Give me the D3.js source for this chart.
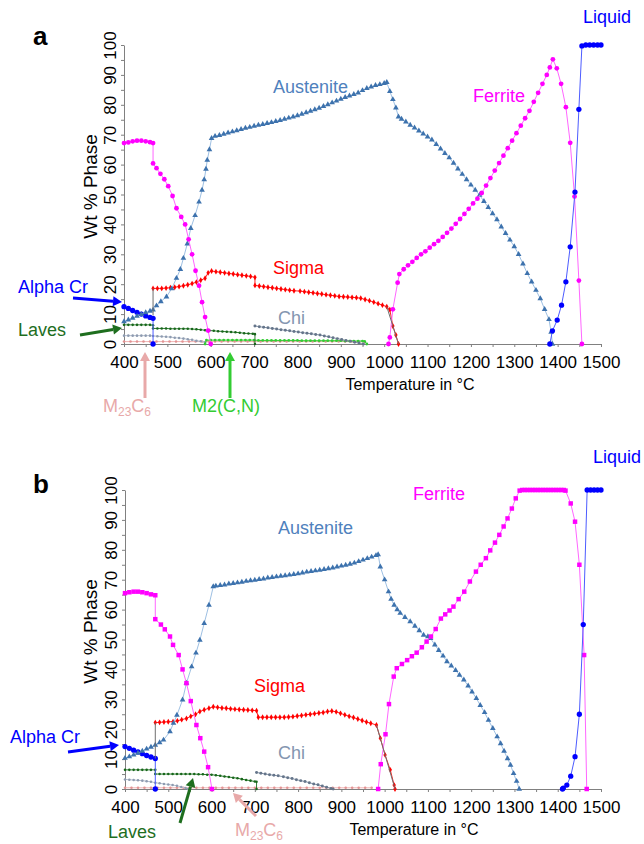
<!DOCTYPE html>
<html>
<head>
<meta charset="utf-8">
<script src="https://cdn.jsdelivr.net/npm/d3@7"></script>
<style>
  body { margin: 0; background: #fff; }
  text { font-family: Arial, "Liberation Sans", sans-serif; }
</style>
</head>
<body>
<div id="chart"></div>
<script>
// values: [temperature °C, wt % phase]
var xTickValues = d3.range(400, 1501, 50);
var yTickValues = d3.range(0, 101, 5);

// ---------- panel a ----------
var ferriteA1 = [[400,67.2],[410,67.4],[420,67.8],[430,68],[440,68],[450,67.8],[460,67.5],[467,67.2],[467,60.4],[475,58.8],
  [484,56.9],[493,55.1],[502,52.8],[512,49.5],[521,45.4],[532,42.5],[541,40],[549,35],[557,30],[565,24.5],[573,19.5],
  [580,14],[587,9],[594,4.5],[600,0]];
var ferriteA2 = [[1010,0],[1013,2.2],[1020,11.6],[1031,20.5],[1035,23.4],[1045,25],[1055,26.3],[1065,27.5],[1075,28.8],
  [1085,30],[1095,31],[1105,32.2],[1115,33.4],[1125,34.5],[1135,35.8],[1145,37.2],[1155,38.6],[1165,40.2],[1175,41.8],
  [1185,43.5],[1195,45.2],[1205,47],[1215,48.6],[1225,50.5],[1235,53],[1245,55.5],[1255,58],[1265,60.5],[1275,63],
  [1285,65.5],[1295,68],[1305,70.5],[1315,73],[1325,75.5],[1335,78],[1345,81],[1355,84],[1365,87],[1375,90],[1382,92.5],
  [1389,95.2],[1398,92.2],[1408,87],[1419,79.2],[1429,67.3],[1439,49.3],[1449,21.2],[1456,0]];
var austeniteA = [[400,7.5],[410,8.1],[420,8.7],[430,9.3],[440,9.9],[450,10.5],[460,11],[467,11.4],[475,12.8],[485,14.2],
  [498,15.8],[510,18.5],[521,22],[530,25],[537,28.7],[546,33.5],[554,38.7],[564,43],[573,47.5],[580,51.5],[585,55],
  [589,58.5],[592,61.5],[597,65],[602,68.8],[610,69.5],[620,69.8],[630,70.2],[640,70.6],[650,71],[660,71.4],[670,71.8],
  [680,72.2],[690,72.5],[700,72.9],[710,73.2],[720,73.5],[730,73.8],[740,74.1],[750,74.5],[760,74.8],[770,75.2],
  [780,75.6],[790,76],[800,76.4],[810,76.9],[820,77.4],[830,77.9],[840,78.4],[850,78.9],[860,79.5],[870,80.1],[880,80.7],
  [890,81.3],[900,81.9],[910,82.5],[920,83],[930,83.5],[940,84],[950,84.8],[960,85.5],[970,86],[980,86.5],[990,86.8],
  [1000,87.2],[1006,87.5],[1013,84.5],[1020,81.8],[1027,79],[1033,76],[1040,75.2],[1050,74.3],[1060,73.2],[1070,72.3],
  [1080,71.3],[1090,70.3],[1100,69.3],[1110,68.3],[1120,66.8],[1130,65.3],[1140,63.8],[1150,62.3],[1160,60.5],[1170,58.6],
  [1180,56.8],[1190,55],[1200,53.2],[1210,51.5],[1220,49.8],[1230,47.7],[1240,45.7],[1250,43.6],[1260,41.6],[1270,39.2],
  [1280,37],[1290,34.8],[1300,32.6],[1310,30],[1320,26.8],[1330,23.6],[1340,20.8],[1350,18],[1360,15.2],[1370,11.6],
  [1380,8.2],[1385,4],[1388,0]];
var sigmaA = [[467,18.6],[477,18.6],[487,18.6],[497,18.7],[507,18.8],[517,19],[527,19.2],[537,19.5],[547,19.8],[557,20.2],
  [567,20.7],[577,21.3],[587,22],[594,23.8],[602,24.4],[612,24.2],[622,24],[632,23.8],[642,23.6],[652,23.4],[662,23.2],
  [672,23],[682,22.8],[692,22.6],[702,22.3],[702,19.6],[712,19.4],[722,19.2],[732,19],[742,18.8],[752,18.6],[762,18.4],
  [772,18.2],[782,18],[792,17.8],[806,17.7],[816,17.5],[826,17.3],[836,17.1],[846,16.9],[856,16.7],[866,16.5],[876,16.3],
  [886,16.1],[896,15.9],[906,15.8],[916,15.7],[926,15.6],[936,15.5],[946,15.3],[956,14.9],[966,14.5],[976,14],[986,13.5],
  [996,13],[1006,12.5],[1013,11.5],[1020,6],[1027,3],[1033,0]];
var alphaCrA = [[400,12.5],[410,11.9],[420,11.2],[430,10.6],[440,10],[450,9.4],[460,8.9],[467,8.6],[467,0]];
var lavesA = [[400,6.4],[410,6.4],[420,6.4],[430,6.4],[440,6.4],[450,6.4],[460,6.4],[467,6.3],[467,5.2],[477,5.2],
  [487,5.2],[497,5.2],[507,5.1],[517,5.1],[527,5.1],[537,5.1],[547,5.1],[557,5],[567,4.9],[577,4.8],[587,4.6],[597,4.5],
  [607,4.4],[617,4.3],[627,4.2],[637,4.1],[647,4],[657,3.9],[667,3.8],[677,3.6],[687,3.5],[697,3.4],[702,3.3],[702,0]];
var minorA = [[400,2.8],[410,2.8],[420,2.8],[430,2.8],[440,2.8],[450,2.8],[460,2.8],[467,2.7],[477,2.6],[487,2.5],
  [497,2.4],[507,2.3],[517,2.1],[527,2],[537,1.8],[547,1.6],[557,1.4],[567,1.1],[577,0.9],[587,0.6]];
var chiA = [[702,6],[712,5.8],[722,5.6],[732,5.4],[742,5.2],[752,5],[762,4.8],[772,4.6],[782,4.4],[792,4.2],[802,4],
  [812,3.8],[822,3.6],[832,3.4],[842,3.2],[852,3],[862,2.7],[872,2.4],[882,2.1],[892,1.8],[902,1.5],[912,1.2],[922,0.9],
  [932,0.6],[942,0.3],[952,0]];
var m23c6A = [[400,0.8],[415,0.8],[430,0.8],[445,0.8],[460,0.8],[475,0.8],[490,0.8],[505,0.8],[520,0.8],[535,0.8],
  [550,0.8],[565,0.8],[580,0.8],[595,0.8],[610,0.8],[625,0.8],[640,0.8],[655,0.8],[670,0.8],[685,0.8],[700,0.8],
  [715,0.8],[730,0.8],[745,0.8],[760,0.8],[775,0.8],[790,0.8],[805,0.8],[820,0.8],[835,0.8],[850,0.8],[865,0.8],
  [880,0.8],[895,0.8],[910,0.8],[925,0.8],[940,0.8],[955,0.7]];
var m2cnA = [[587,0],[590,1.3],[600,1.3],[610,1.3],[620,1.3],[630,1.3],[640,1.3],[650,1.3],[660,1.3],[670,1.3],[680,1.3],
  [690,1.3],[700,1.3],[710,1.2],[720,1.2],[730,1.2],[740,1.2],[750,1.2],[760,1.2],[770,1.2],[780,1.2],[790,1.2],
  [800,1.2],[810,1.1],[820,1.1],[830,1.1],[840,1.1],[850,1.1],[860,1.1],[870,1.1],[880,1.1],[890,1.1],[900,1.1],
  [910,1],[920,1],[930,1],[940,1],[950,1],[955,0.9],[960,0]];
var liquidA = [[1382,0],[1388,4.4],[1399,8],[1409,13],[1419,20.8],[1429,32.5],[1440,50.8],[1449,78.5],[1456,99.7],
  [1465,100],[1474,100],[1483,100],[1492,100],[1500,100]];
var connectorsA = [[[467,9.6],[467,18.6]], [[1006,12.5],[1033,0]]];

// ---------- panel b ----------
var ferriteB1 = [[400,65.5],[410,65.8],[420,66],[430,66],[440,65.8],[450,65.5],[460,65.1],[470,64.8],[470,56.8],[483,55],
  [492,53.4],[504,51],[511,48.2],[524,44.8],[533,40],[542,35.4],[552,29.4],[565,21.4],[574,17],[583,12.5],[592,7.3],[601,0]];
var ferriteB2 = [[985,0],[991,8.3],[1002,18.3],[1010,28.4],[1021,37.6],[1028,40.4],[1040,41.8],[1052,43.1],[1063,44.4],
  [1074,45.6],[1086,47.4],[1097,49.3],[1107,51],[1118,53.5],[1130,57],[1140,58.4],[1150,59.7],[1159,61],[1171,63.5],
  [1184,66],[1197,69.4],[1211,72.7],[1222,75],[1234,77.2],[1244,79.8],[1255,82.4],[1265,85],[1275,87.8],[1284,90.5],
  [1294,93.8],[1303,97.2],[1312,99.8],[1318,100],[1324,100],[1330,100],[1336,100],[1342,100],[1348,100],[1354,100],
  [1360,100],[1366,100],[1372,100],[1378,100],[1384,100],[1390,100],[1396,100],[1402,100],[1408,100],[1414,100],
  [1418,99.8],[1430,95.5],[1440,89.4],[1450,75],[1461,44.8],[1467,0]];
var austeniteB = [[400,10.3],[410,10.8],[420,11.4],[430,12],[440,12.7],[450,13.4],[460,14],[470,14.7],[480,15.5],
  [489,16.4],[504,19.2],[512,22],[520,24.7],[533,29.8],[542,35.4],[554,40.9],[564,45.5],[573,49.8],[583,55.4],[594,61.5],
  [604,67.7],[610,67.9],[620,68.1],[630,68.3],[640,68.6],[650,68.8],[660,69],[670,69.2],[680,69.5],[690,69.7],[700,69.9],
  [710,70.1],[720,70.3],[730,70.6],[740,70.8],[750,71],[760,71.2],[770,71.4],[780,71.6],[790,71.8],[800,72],[810,72.3],
  [820,72.6],[830,72.8],[840,73],[850,73.2],[860,73.5],[870,73.7],[880,74],[890,74.3],[900,74.6],[910,74.9],[920,75.2],
  [930,75.6],[940,76.1],[950,76.6],[960,77.1],[970,77.6],[980,78.1],[985,78.4],[990,74.3],[1000,70],[1009,66],[1015,63.5],
  [1022,61.5],[1029,60],[1036,58.8],[1047,57.4],[1059,56],[1070,54.5],[1080,53],[1090,51.5],[1100,51],[1106,50.4],
  [1116,48.2],[1125,46.4],[1135,44.5],[1144,42.6],[1154,41.2],[1164,39.7],[1173,38.1],[1183,36.5],[1193,34.5],[1202,32.5],
  [1212,30.3],[1221,28],[1231,25.6],[1240,23],[1250,20.3],[1260,17.5],[1268,15.2],[1276,12.7],[1284,10.2],[1291,8],
  [1298,5.2],[1305,2.6],[1311,0]];
var sigmaB = [[470,22.2],[480,22.3],[490,22.4],[500,22.5],[511,22.5],[521,22.8],[531,23.2],[542,23.6],[552,24.3],[563,25],
  [573,25.9],[583,26.5],[594,27],[604,27.5],[614,27.3],[624,27.1],[634,27],[644,26.8],[654,26.7],[664,26.6],[674,26.5],
  [684,26.4],[694,26.3],[704,26.2],[708,24],[718,24],[728,24],[738,24],[748,24],[758,24],[768,24],[778,24.1],[788,24.2],
  [798,24.4],[808,24.6],[818,24.8],[828,25],[838,25.2],[848,25.4],[858,25.6],[868,25.9],[878,26.1],[888,25.8],[898,25.3],
  [908,24.8],[918,24.3],[928,23.9],[938,23.4],[948,22.9],[958,22.4],[968,22],[981,21.4],[990,17],[1001,11.4],[1013,6.4],
  [1022,1.3],[1024,0]];
var alphaCrB = [[400,14.2],[410,13.6],[420,13],[430,12.4],[440,11.8],[450,11.2],[460,10.7],[470,10.2],[470,0]];
var lavesB = [[400,6.4],[410,6.4],[420,6.4],[430,6.4],[440,6.4],[450,6.4],[460,6.4],[470,6.4],[470,5],[480,5],[490,5],
  [500,5],[510,5],[520,5],[530,5],[540,5],[550,5],[560,5],[570,4.9],[580,4.9],[590,4.8],[600,4.8],[610,4.6],[620,4.4],
  [630,4.2],[640,4],[650,3.8],[660,3.6],[670,3.3],[680,3],[690,2.8],[700,2.5],[704,2.4],[704,0]];
var minorB = [[400,3.2],[410,3.1],[420,3],[430,2.9],[440,2.8],[450,2.6],[460,2.4],[470,2.1],[480,1.9],[490,1.7],
  [500,1.5],[510,1.3],[520,1.1],[530,0.7],[540,0.3],[545,0]];
var chiB = [[704,5.5],[714,5.3],[724,5],[734,4.8],[744,4.6],[754,4.4],[766,4.1],[776,3.8],[786,3.5],[796,3.1],[806,2.8],
  [816,2.5],[826,2.1],[836,1.7],[846,1.4],[856,1],[866,0.6],[876,0.2],[881,0]];
var m23c6B = [[400,0.4],[415,0.4],[430,0.4],[445,0.4],[460,0.4],[475,0.4],[490,0.4],[505,0.4],[520,0.4],[535,0.4],
  [550,0.4],[565,0.4],[580,0.4],[595,0.4],[610,0.4],[625,0.4],[640,0.4],[655,0.4],[670,0.4],[685,0.4],[700,0.4],
  [715,0.4],[730,0.4],[745,0.4],[760,0.4],[775,0.4],[790,0.4],[805,0.4],[820,0.4],[835,0.4],[850,0.4],[865,0.4],
  [880,0.4],[895,0.4],[910,0.4],[925,0.4],[940,0.4],[955,0.4],[970,0.4]];
var liquidB = [[1411,0],[1413,0.3],[1421,1.3],[1430,4.3],[1440,10.8],[1450,25],[1459,55],[1468,100],[1476,100],[1484,100],
  [1492,100],[1500,100]];
var connectorsB = [[[470,10.2],[470,22.2]], [[981,21.4],[1024,0]]];

// ---------- styles ----------
var styles = {
  ferrite:   { color: "#FF00FF", line: "#FF66FF", shape: d3.symbolCircle, size: 18 },
  ferriteSq: { color: "#FF00FF", line: "#FF66FF", shape: d3.symbolSquare, size: 20 },
  austenite: { color: "#3D72AD", line: "#9EC0E3", shape: d3.symbolTriangle, size: 14 },
  sigma:     { color: "#FF0000", line: "#FF2020", shape: d3.symbolDiamond, size: 10 },
  blue:      { color: "#0000FF", line: "#4D5CFF", shape: d3.symbolCircle, size: 22 },
  laves:     { color: "#17661A", line: "#2E7D32", shape: d3.symbolCircle, size: 5 },
  chi:       { color: "#65758A", line: "#8796AA", shape: d3.symbolCircle, size: 7 },
  minor:     { color: "#8E9BB0", line: "#B4BECE", shape: d3.symbolCircle, size: 5 },
  m23c6:     { color: "#E29393", line: "#F0B4B4", shape: d3.symbolCircle, size: 5 },
  m2cn:      { color: "#33CC33", line: "#33CC33", shape: d3.symbolCircle, size: 6 }
};

var panels = [
  { letter: "a", letterPos: [33, 45], left: 124, right: 601, top: 45, bottom: 344, xTitleX: 410,
    series: [[m23c6A, "m23c6"], [minorA, "minor"], [m2cnA, "m2cn"], [lavesA, "laves"], [chiA, "chi"],
             [sigmaA, "sigma"], [alphaCrA, "blue"], [austeniteA, "austenite"], [ferriteA1, "ferrite"],
             [ferriteA2, "ferrite"], [liquidA, "blue"]],
    connectors: connectorsA,
    labels: [
      ["Austenite", 273, 93, "#4F81BD"], ["Ferrite", 473, 102, "#FF00FF"], ["Liquid", 583, 23, "#0000FF"],
      ["Sigma", 273, 274, "#FF0000"], ["Chi", 278, 324, "#8496B0"], ["Alpha Cr", 18, 293, "#0000FF"],
      ["Laves", 18, 336, "#1E6E1E"], ["M2(C,N)", 192, 412, "#33CC33"]],
    m23Label: [103, 412],
    arrows: [[73, 298, 122, 302, "#0000FF"], [80, 335, 122, 328, "#1E6E1E"],
             [145, 398, 145, 352, "#E8A9A9"], [230, 398, 230, 352, "#33CC33"]] },
  { letter: "b", letterPos: [33, 493], left: 125, right: 601, top: 490, bottom: 789, xTitleX: 414,
    series: [[m23c6B, "m23c6"], [minorB, "minor"], [lavesB, "laves"], [chiB, "chi"],
             [sigmaB, "sigma"], [alphaCrB, "blue"], [austeniteB, "austenite"], [ferriteB1, "ferriteSq"],
             [ferriteB2, "ferriteSq"], [liquidB, "blue"]],
    connectors: connectorsB,
    labels: [
      ["Austenite", 278, 534, "#4F81BD"], ["Ferrite", 413, 500, "#FF00FF"], ["Liquid", 593, 463, "#0000FF"],
      ["Sigma", 254, 692, "#FF0000"], ["Chi", 278, 759, "#8496B0"], ["Alpha Cr", 10, 743, "#0000FF"],
      ["Laves", 108, 838, "#1E6E1E"]],
    m23Label: [235, 836],
    arrows: [[68, 752, 119, 745, "#0000FF"], [180, 823, 193, 778, "#1E6E1E"], [256, 816, 233, 793, "#E8A9A9"]] }
];

var svg = d3.select("#chart").append("svg")
  .attr("width", 644)
  .attr("height", 844)
  .style("background", "#fff");

panels.forEach(function(p) {
  var x = d3.scaleLinear().domain([400, 1500]).range([p.left, p.right]);
  var y = d3.scaleLinear().domain([0, 100]).range([p.bottom, p.top]);

  // y axis, rotated labels
  var ya = svg.append("g")
    .attr("transform", "translate(" + p.left + ",0)")
    .call(d3.axisLeft(y).tickValues(yTickValues).tickSize(3).tickSizeOuter(0)
      .tickFormat(function(d) { return d % 10 === 0 ? d : ""; }));
  ya.selectAll("text")
    .attr("x", 0).attr("dy", 0)
    .attr("transform", "translate(-8,0) rotate(-90)")
    .attr("text-anchor", "middle")
    .attr("font-size", 17).attr("fill", "#000");

  // x axis
  var xa = svg.append("g")
    .attr("transform", "translate(0," + p.bottom + ")")
    .call(d3.axisBottom(x).tickValues(xTickValues).tickSize(3).tickSizeOuter(0)
      .tickFormat(function(d) { return d % 100 === 0 ? d : ""; }));
  xa.selectAll("text").attr("y", 12).attr("font-size", 17).attr("fill", "#000");

  [ya, xa].forEach(function(a) {
    a.attr("font-family", null);
    a.select(".domain").attr("stroke", "#808080");
    a.selectAll(".tick line").attr("stroke", "#808080");
  });

  svg.append("text")
    .attr("x", p.xTitleX).attr("y", p.bottom + 46)
    .attr("text-anchor", "middle").attr("font-size", 16)
    .text("Temperature in °C");
  svg.append("text")
    .attr("transform", "translate(97," + (y(50) - 8) + ") rotate(-90)")
    .attr("text-anchor", "middle").attr("font-size", 19)
    .text("Wt % Phase");
  svg.append("text")
    .attr("x", p.letterPos[0]).attr("y", p.letterPos[1])
    .attr("font-size", 26).attr("font-weight", "bold")
    .text(p.letter);

  var line = d3.line().x(function(d) { return x(d[0]); }).y(function(d) { return y(d[1]); });
  var g = svg.append("g");

  p.series.forEach(function(s) {
    var st = styles[s[1]];
    g.append("path").datum(s[0])
      .attr("d", line)
      .attr("fill", "none")
      .attr("stroke", st.line)
      .attr("stroke-width", 1);
    g.selectAll(null).data(s[0]).enter().append("path")
      .attr("d", d3.symbol().type(st.shape).size(st.size))
      .attr("transform", function(d) { return "translate(" + x(d[0]) + "," + y(d[1]) + ")"; })
      .attr("fill", st.color);
  });

  p.connectors.forEach(function(c) {
    g.append("path").datum(c).attr("d", line)
      .attr("fill", "none").attr("stroke", "#6e6e6e").attr("stroke-width", 1);
  });

  // phase labels
  p.labels.forEach(function(l) {
    svg.append("text").attr("x", l[1]).attr("y", l[2])
      .attr("font-size", 18).attr("fill", l[3]).text(l[0]);
  });
  var m = svg.append("text").attr("x", p.m23Label[0]).attr("y", p.m23Label[1])
    .attr("font-size", 18).attr("fill", "#E8A9A9");
  m.append("tspan").text("M");
  m.append("tspan").attr("font-size", 12).attr("dy", 4).text("23");
  m.append("tspan").attr("dy", -4).text("C");
  m.append("tspan").attr("font-size", 12).attr("dy", 4).text("6");

  // arrows
  p.arrows.forEach(function(a) {
    var ang = Math.atan2(a[3] - a[1], a[2] - a[0]);
    var hl = 9, hw = 5;
    var bx = a[2] - hl * Math.cos(ang), by = a[3] - hl * Math.sin(ang);
    svg.append("line")
      .attr("x1", a[0]).attr("y1", a[1]).attr("x2", bx).attr("y2", by)
      .attr("stroke", a[4]).attr("stroke-width", 3);
    svg.append("path")
      .attr("d", "M" + a[2] + "," + a[3] +
        "L" + (bx + hw * Math.sin(ang)) + "," + (by - hw * Math.cos(ang)) +
        "L" + (bx - hw * Math.sin(ang)) + "," + (by + hw * Math.cos(ang)) + "Z")
      .attr("fill", a[4]);
  });
});
</script>
</body>
</html>
